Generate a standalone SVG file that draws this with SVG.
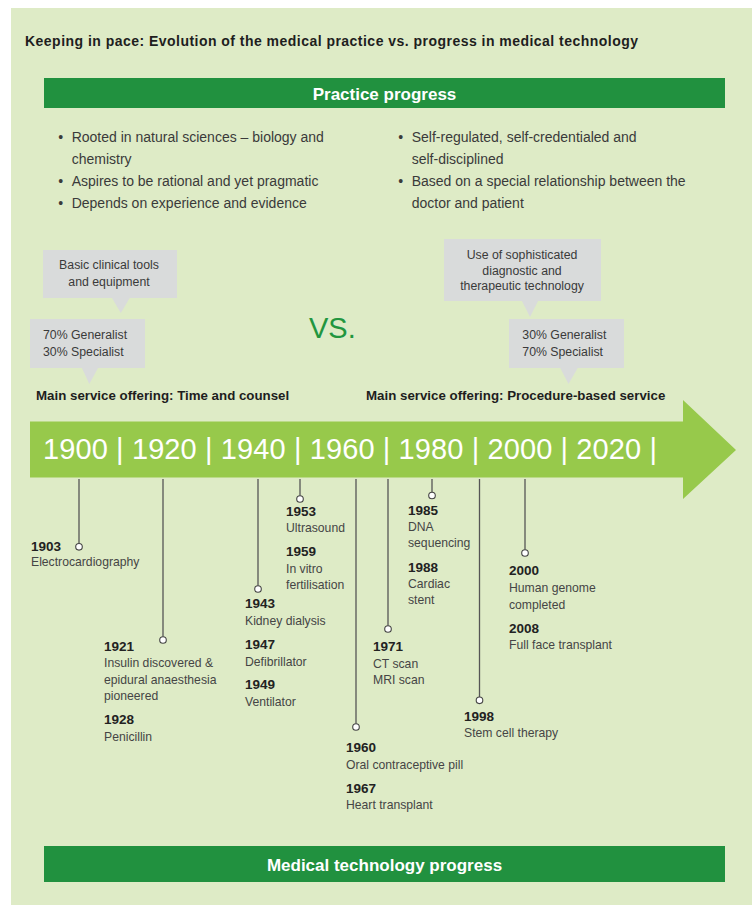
<svg xmlns="http://www.w3.org/2000/svg" width="752" height="906" viewBox="0 0 752 906">
<style>
.bg{fill:#deebc6}
.bar{fill:#21913f}
.bart{fill:#fff;font-family:"Liberation Sans",Arial,sans-serif;font-weight:bold;font-size:17px;text-anchor:middle}
.title{fill:#1e1e1e;font-family:"Liberation Sans",Arial,sans-serif;font-weight:bold;font-size:14px}
.bul{fill:#3a3a3a;font-family:"Liberation Sans",Arial,sans-serif;font-size:14px}
.call{fill:#d9dbdb}
.ct{fill:#3a3a3a;font-family:"Liberation Sans",Arial,sans-serif;font-size:12.3px}
.ctm{fill:#3a3a3a;font-family:"Liberation Sans",Arial,sans-serif;font-size:12.3px;text-anchor:middle}
.main{fill:#1e1e1e;font-family:"Liberation Sans",Arial,sans-serif;font-weight:bold;font-size:13.3px}
.vs{fill:#22963f;font-family:"Liberation Sans",Arial,sans-serif;font-size:29px}
.arrow{fill:#97c94b}
.years{fill:#fff;font-family:"Liberation Sans",Arial,sans-serif;font-size:29px}
.yr{fill:#222;font-family:"Liberation Sans",Arial,sans-serif;font-weight:bold;font-size:13.5px}
.ds{fill:#454545;font-family:"Liberation Sans",Arial,sans-serif;font-size:12.2px}
.tick{stroke:#555;stroke-width:1.3;fill:none}
.dot{fill:#fff;stroke:#444;stroke-width:1.1}
</style>
<rect x="0" y="0" width="752" height="906" fill="#ffffff"/>
<rect class="bg" x="11" y="8" width="741" height="897"/>

<g id="title">
<text class="title" x="25" y="46" textLength="613">Keeping in pace: Evolution of the medical practice vs. progress in medical technology</text>
</g>

<g id="practice-bar">
<rect class="bar" x="44" y="78" width="681" height="30"/>
<text class="bart" x="384.5" y="100">Practice progress</text>
</g>

<g id="bullets-left">
<text class="bul" x="58.3" y="141.7">•</text>
<text class="bul" x="71.7" y="141.7">Rooted in natural sciences – biology and</text>
<text class="bul" x="71.7" y="164">chemistry</text>
<text class="bul" x="58.3" y="186">•</text>
<text class="bul" x="71.7" y="186">Aspires to be rational and yet pragmatic</text>
<text class="bul" x="58.3" y="207.5">•</text>
<text class="bul" x="71.7" y="207.5">Depends on experience and evidence</text>
</g>

<g id="bullets-right">
<text class="bul" x="398.3" y="141.7">•</text>
<text class="bul" x="411.7" y="141.7">Self-regulated, self-credentialed and</text>
<text class="bul" x="411.7" y="164">self-disciplined</text>
<text class="bul" x="398.3" y="186">•</text>
<text class="bul" x="411.7" y="186">Based on a special relationship between the</text>
<text class="bul" x="411.7" y="207.5">doctor and patient</text>
</g>

<g id="callout-basic-tools">
<rect class="call" x="43" y="250" width="134" height="48"/>
<polygon class="call" points="111.7,297.5 130,297.5 120.8,313"/>
<text class="ctm" x="109" y="269.3">Basic clinical tools</text>
<text class="ctm" x="109" y="286">and equipment</text>
</g>

<g id="callout-generalist-left">
<rect class="call" x="30" y="319" width="115" height="49"/>
<polygon class="call" points="81.7,367.5 98.3,367.5 89.3,384"/>
<text class="ct" x="43" y="339.3">70% Generalist</text>
<text class="ct" x="43" y="356">30% Specialist</text>
</g>

<g id="vs">
<text class="vs" x="309" y="338">VS.</text>
</g>

<g id="callout-sophisticated">
<rect class="call" x="444" y="239" width="157" height="62"/>
<polygon class="call" points="521.7,300.5 538.3,300.5 530,317"/>
<text class="ctm" x="522" y="259.3">Use of sophisticated</text>
<text class="ctm" x="522" y="274.5">diagnostic and</text>
<text class="ctm" x="522" y="289.5">therapeutic technology</text>
</g>

<g id="callout-generalist-right">
<rect class="call" x="509" y="319" width="115" height="49"/>
<polygon class="call" points="560,367.5 578,367.5 568.5,384"/>
<text class="ct" x="522.3" y="339.3">30% Generalist</text>
<text class="ct" x="522.3" y="356">70% Specialist</text>
</g>

<g id="main-offering-left">
<text class="main" x="36" y="399.5">Main service offering: Time and counsel</text>
</g>
<g id="main-offering-right">
<text class="main" x="366" y="399.5">Main service offering: Procedure-based service</text>
</g>

<g id="timeline-arrow">
<polygon class="arrow" points="30,421.5 683,421.5 683,400 736,450 683,499 683,477.5 30,477.5"/>
<text class="years" x="43" y="459" textLength="614">1900 | 1920 | 1940 | 1960 | 1980 | 2000 | 2020 |</text>
</g>

<g id="connectors">
<line class="tick" x1="79" y1="479" x2="79" y2="543.5"/>
<circle class="dot" cx="79" cy="546.8" r="3.3"/>
<line class="tick" x1="163" y1="479" x2="163" y2="636.7"/>
<circle class="dot" cx="163" cy="640" r="3.3"/>
<line class="tick" x1="258" y1="479" x2="258" y2="585.7"/>
<circle class="dot" cx="258" cy="589" r="3.3"/>
<line class="tick" x1="300" y1="479" x2="300" y2="495.7"/>
<circle class="dot" cx="300" cy="499" r="3.3"/>
<line class="tick" x1="356" y1="479" x2="356" y2="723.7"/>
<circle class="dot" cx="356" cy="727" r="3.3"/>
<line class="tick" x1="388" y1="479" x2="388" y2="625.7"/>
<circle class="dot" cx="388" cy="629" r="3.3"/>
<line class="tick" x1="432" y1="479" x2="432" y2="492.2"/>
<circle class="dot" cx="432" cy="495.5" r="3.3"/>
<line class="tick" x1="479.5" y1="479" x2="479.5" y2="697"/>
<circle class="dot" cx="479.5" cy="700.3" r="3.3"/>
<line class="tick" x1="525" y1="479" x2="525" y2="549.7"/>
<circle class="dot" cx="525" cy="553" r="3.3"/>
</g>

<g id="event-1903">
<text class="yr" x="31" y="550.7">1903</text>
<text class="ds" x="31" y="566">Electrocardiography</text>
</g>

<g id="event-1921">
<text class="yr" x="104" y="651">1921</text>
<text class="ds" x="104" y="667">Insulin discovered &amp;</text>
<text class="ds" x="104" y="684">epidural anaesthesia</text>
<text class="ds" x="104" y="700">pioneered</text>
<text class="yr" x="104" y="724">1928</text>
<text class="ds" x="104" y="741">Penicillin</text>
</g>

<g id="event-1943">
<text class="yr" x="245" y="608">1943</text>
<text class="ds" x="245" y="624.5">Kidney dialysis</text>
<text class="yr" x="245" y="648.5">1947</text>
<text class="ds" x="245" y="665.5">Defibrillator</text>
<text class="yr" x="245" y="689">1949</text>
<text class="ds" x="245" y="705.5">Ventilator</text>
</g>

<g id="event-1953">
<text class="yr" x="286" y="516">1953</text>
<text class="ds" x="286" y="532">Ultrasound</text>
<text class="yr" x="286" y="556">1959</text>
<text class="ds" x="286" y="573">In vitro</text>
<text class="ds" x="286" y="589">fertilisation</text>
</g>

<g id="event-1960">
<text class="yr" x="346" y="752">1960</text>
<text class="ds" x="346" y="769">Oral contraceptive pill</text>
<text class="yr" x="346" y="793">1967</text>
<text class="ds" x="346" y="809">Heart transplant</text>
</g>

<g id="event-1971">
<text class="yr" x="373" y="651">1971</text>
<text class="ds" x="373" y="668">CT scan</text>
<text class="ds" x="373" y="684">MRI scan</text>
</g>

<g id="event-1985">
<text class="yr" x="408" y="515">1985</text>
<text class="ds" x="408" y="531">DNA</text>
<text class="ds" x="408" y="547">sequencing</text>
<text class="yr" x="408" y="572">1988</text>
<text class="ds" x="408" y="588">Cardiac</text>
<text class="ds" x="408" y="604">stent</text>
</g>

<g id="event-1998">
<text class="yr" x="464" y="721">1998</text>
<text class="ds" x="464" y="737">Stem cell therapy</text>
</g>

<g id="event-2000">
<text class="yr" x="509" y="575">2000</text>
<text class="ds" x="509" y="592">Human genome</text>
<text class="ds" x="509" y="609">completed</text>
<text class="yr" x="509" y="633">2008</text>
<text class="ds" x="509" y="649">Full face transplant</text>
</g>

<g id="medtech-bar">
<rect class="bar" x="44" y="846" width="681" height="36"/>
<text class="bart" x="384.5" y="870.5">Medical technology progress</text>
</g>
</svg>
